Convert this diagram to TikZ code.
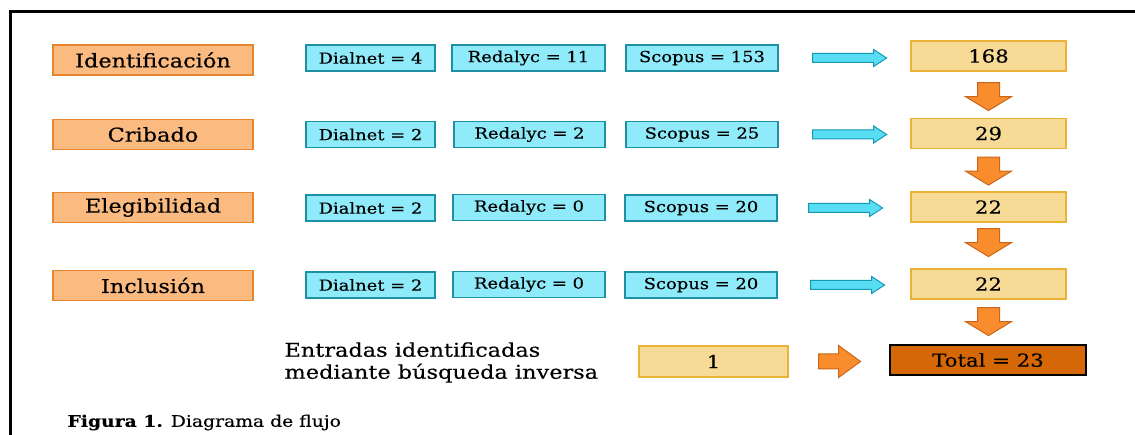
\documentclass[tikz,border=0pt]{standalone}
\usepackage{fontspec}
\setmainfont{DejaVu Serif}[FakeStretch=1.18, FakeBold=0.4]
\usetikzlibrary{calc}
\definecolor{etapafill}{HTML}{FBBA80}
\definecolor{etapaline}{HTML}{E8862E}
\definecolor{basefill}{HTML}{8FEBFA}
\definecolor{baseline}{HTML}{1F8FA3}
\definecolor{flechac}{HTML}{57DEF5}
\definecolor{flechacline}{HTML}{1599B2}
\definecolor{numfill}{HTML}{F6DA96}
\definecolor{numline}{HTML}{EAB236}
\definecolor{flechao}{HTML}{F98C2C}
\definecolor{flechaoline}{HTML}{C9661C}
\definecolor{totalfill}{HTML}{D56707}
\tikzset{
  etapa/.style={draw=etapaline, fill=etapafill, line width=1.2pt, minimum width=200, minimum height=30, font=\fontsize{19}{22}\selectfont},
  base/.style={draw=baseline, fill=basefill, line width=1.2pt, minimum height=26, font=\fontsize{15.2}{18}\selectfont},
  numbox/.style={draw=numline, fill=numfill, line width=1.2pt, minimum width=155, minimum height=30, font=\fontsize{18}{21}\selectfont},
  cyanarrow/.style={draw=flechacline, fill=flechac, line width=1pt},
  orangearrow/.style={draw=flechaoline, fill=flechao, line width=1pt},
  pics/rightblock/.style={code={\draw[cyanarrow] (0,-4.5) -- (61,-4.5) -- (61,-8.5) -- (74,0) -- (61,8.5) -- (61,4.5) -- (0,4.5) -- cycle;}},
  pics/downblock/.style={code={\draw[orangearrow] (-11,0) -- (11,0) -- (11,14) -- (23,14) -- (0,28) -- (-23,14) -- (-11,14) -- cycle;}},
  pics/fatright/.style={code={\draw[orangearrow] (0,-7.5) -- (20,-7.5) -- (20,-16) -- (42,0) -- (20,16) -- (20,7.5) -- (0,7.5) -- cycle;}},
}
\begin{document}
\begin{tikzpicture}[x=1pt,y=-1pt]
\useasboundingbox (0,0) rectangle (1135,435);
\draw[line width=3pt] (10.5,435) -- (10.5,12) -- (1135,12);

% etapas
\node[etapa] (e1) at (153,60) {Identificación};
\node[etapa] (e2) at (153,134.5) {Cribado};
\node[etapa] (e3) at (153,207.5) {Elegibilidad};
\node[etapa] (e4) at (153,285.5) {Inclusión};

% bases de datos
\node[base, minimum width=129] (d1) at (370.5,58) {Dialnet = 4};
\node[base, minimum width=153] (r1) at (528.5,58) {Redalyc = 11};
\node[base, minimum width=152] (s1) at (702,58) {Scopus = 153};
\node[base, minimum width=129] (d2) at (370.5,134.5) {Dialnet = 2};
\node[base, minimum width=151] (r2) at (529.5,134.5) {Redalyc = 2};
\node[base, minimum width=152] (s2) at (702,134.5) {Scopus = 25};
\node[base, minimum width=129] (d3) at (370.5,208) {Dialnet = 2};
\node[base, minimum width=152] (r3) at (529,207.5) {Redalyc = 0};
\node[base, minimum width=152] (s3) at (701,208) {Scopus = 20};
\node[base, minimum width=129] (d4) at (370.5,285) {Dialnet = 2};
\node[base, minimum width=152] (r4) at (529,284.5) {Redalyc = 0};
\node[base, minimum width=152] (s4) at (701,285) {Scopus = 20};

% totales
\node[numbox] (n1) at (988.5,56) {168};
\node[numbox] (n2) at (988.5,133.5) {29};
\node[numbox] (n3) at (988.5,207) {22};
\node[numbox] (n4) at (988.5,284) {22};
\node[numbox, minimum width=149, minimum height=31] (inv) at (713.5,361.5) {1};
\node[draw=black, fill=totalfill, line width=2.5pt, minimum width=196, minimum height=30, font=\fontsize{18}{21}\selectfont] (tot) at (988,360) {Total = 23};

\node[anchor=west, align=left, font=\fontsize{19}{22}\selectfont] (txt) at (281,362.5) {Entradas identificadas\\mediante búsqueda inversa};
\node[anchor=west, font=\fontsize{15.9}{18}\selectfont] (cap) at (64,422.5) {\textbf{Figura 1.} Diagrama de flujo};

% flechas
\pic at ($(s1.east)+(34,0)$) {rightblock};
\pic at ($(s2.east)+(34,0)$) {rightblock};
\pic at ($(s3.east)+(31,0)$) {rightblock};
\pic at ($(s4.east)+(33,0)$) {rightblock};
\pic at ($(n1.south)+(0,11)$) {downblock};
\pic at ($(n2.south)+(0,8)$) {downblock};
\pic at ($(n3.south)+(0,6)$) {downblock};
\pic at ($(n4.south)+(0,8)$) {downblock};
\pic at ($(inv.east)+(30,0)$) {fatright};
\end{tikzpicture}
\end{document}
